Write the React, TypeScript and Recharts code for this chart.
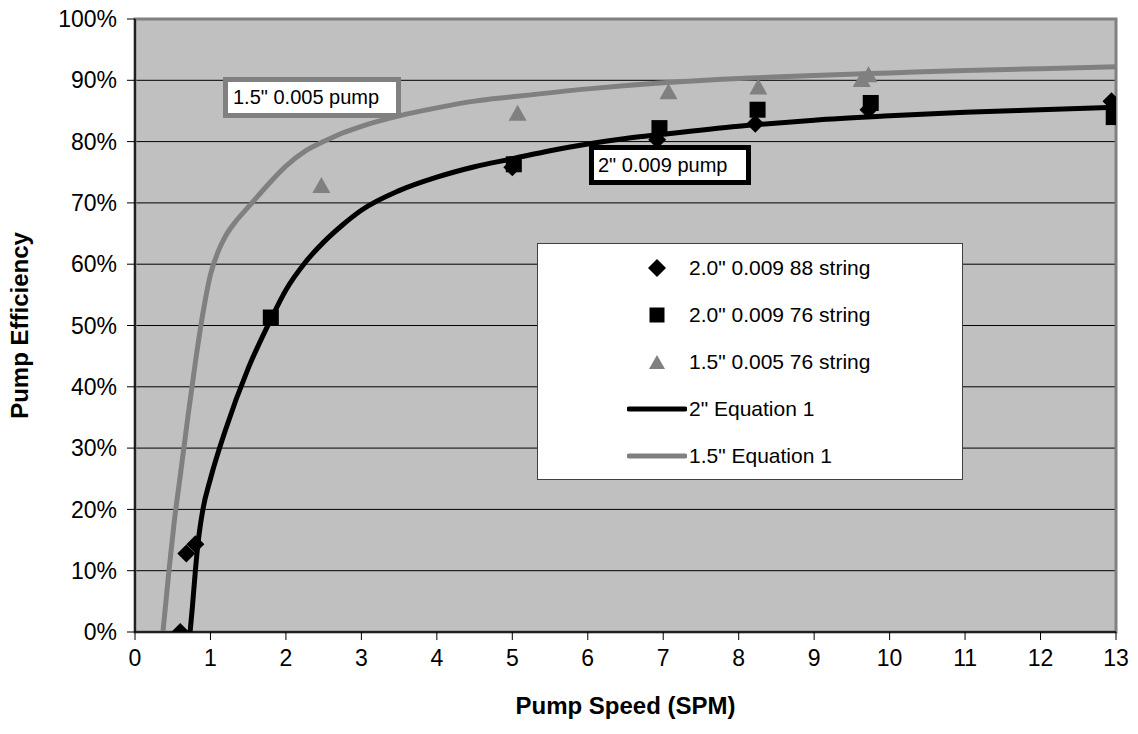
import React from 'react';
import { ComposedChart, Line, Scatter, XAxis, YAxis, CartesianGrid, ReferenceArea } from 'recharts';

// measured points, speed in SPM, efficiency in %
const string88_2in = [
  { x: 0.6, y: 0 },
  { x: 0.68, y: 12.8 },
  { x: 0.8, y: 14.3 },
  { x: 5.0, y: 75.8 },
  { x: 6.92, y: 80.3 },
  { x: 8.22, y: 82.9 },
  { x: 9.72, y: 85.2 },
  { x: 12.94, y: 86.6 },
];

const string76_2in = [
  { x: 1.8, y: 51.3 },
  { x: 5.02, y: 76.3 },
  { x: 6.95, y: 82.2 },
  { x: 8.25, y: 85.2 },
  { x: 9.75, y: 86.3 },
  { x: 12.97, y: 84.0 },
];

const string76_15in = [
  { x: 2.47, y: 72.9 },
  { x: 5.07, y: 84.7 },
  { x: 7.07, y: 88.2 },
  { x: 8.26, y: 89.0 },
  { x: 9.63, y: 90.2 },
  { x: 9.72, y: 91.0 },
];

// Equation 1 curves
const eq1_2in = [
  { x: 0.73, y: 0 },
  { x: 0.76, y: 4 },
  { x: 0.8, y: 10 },
  { x: 0.84, y: 15 },
  { x: 0.9, y: 20 },
  { x: 1.0, y: 25 },
  { x: 1.2, y: 33 },
  { x: 1.5, y: 43 },
  { x: 1.8, y: 51 },
  { x: 2.0, y: 55.8 },
  { x: 2.25, y: 60.2 },
  { x: 2.5, y: 63.6 },
  { x: 2.75, y: 66.4 },
  { x: 3.0, y: 68.8 },
  { x: 3.5, y: 72 },
  { x: 4.0, y: 74.2 },
  { x: 4.5, y: 75.9 },
  { x: 5.0, y: 77.2 },
  { x: 5.5, y: 78.5 },
  { x: 6.0, y: 79.6 },
  { x: 6.5, y: 80.5 },
  { x: 7.0, y: 81.2 },
  { x: 8.0, y: 82.5 },
  { x: 9.0, y: 83.5 },
  { x: 10.0, y: 84.2 },
  { x: 11.0, y: 84.8 },
  { x: 12.0, y: 85.2 },
  { x: 13.0, y: 85.6 },
];

const eq1_15in = [
  { x: 0.37, y: 0 },
  { x: 0.45, y: 10 },
  { x: 0.52, y: 18 },
  { x: 0.6, y: 25.5 },
  { x: 0.7, y: 35 },
  { x: 0.8, y: 44 },
  { x: 0.9, y: 52 },
  { x: 1.0, y: 58.3 },
  { x: 1.1, y: 62 },
  { x: 1.2, y: 64.6 },
  { x: 1.35, y: 67.2 },
  { x: 1.5, y: 69.3 },
  { x: 1.75, y: 72.8 },
  { x: 2.0, y: 76.0 },
  { x: 2.25, y: 78.4 },
  { x: 2.5, y: 80.0 },
  { x: 2.75, y: 81.4 },
  { x: 3.0, y: 82.5 },
  { x: 3.5, y: 84.2 },
  { x: 4.0, y: 85.5 },
  { x: 4.5, y: 86.6 },
  { x: 5.0, y: 87.3 },
  { x: 6.0, y: 88.6 },
  { x: 7.0, y: 89.6 },
  { x: 8.0, y: 90.3 },
  { x: 9.0, y: 90.8 },
  { x: 10.0, y: 91.2 },
  { x: 11.0, y: 91.6 },
  { x: 12.0, y: 91.9 },
  { x: 13.0, y: 92.2 },
];

const xTicks = [0, 1, 2, 3, 4, 5, 6, 7, 8, 9, 10, 11, 12, 13];
const yTicks = [0, 10, 20, 30, 40, 50, 60, 70, 80, 90, 100];

const legendItems = [
  { name: '2.0" 0.009 88 string', kind: 'diamond', color: '#000000' },
  { name: '2.0" 0.009 76 string', kind: 'square', color: '#000000' },
  { name: '1.5" 0.005 76 string', kind: 'triangle', color: '#808080' },
  { name: '2" Equation 1', kind: 'line', color: '#000000' },
  { name: '1.5" Equation 1', kind: 'line', color: '#808080' },
];

const FONT = 'Arial, "Liberation Sans", sans-serif';

const Diamond = (props: any) => {
  const { cx, cy } = props;
  const r = 9;
  return <path d={`M${cx},${cy - r}L${cx + r},${cy}L${cx},${cy + r}L${cx - r},${cy}Z`} fill="#000" />;
};

const Square = (props: any) => {
  const { cx, cy } = props;
  const s = 16;
  return <rect x={cx - s / 2} y={cy - s / 2} width={s} height={s} fill="#000" />;
};

const Triangle = (props: any) => {
  const { cx, cy } = props;
  const w = 18;
  const h = 16;
  return <path d={`M${cx},${cy - h / 2}L${cx + w / 2},${cy + h / 2}L${cx - w / 2},${cy + h / 2}Z`} fill="#808080" />;
};

function LegendIcon({ kind, color }: { kind: string; color: string }) {
  if (kind === 'line') {
    return (
      <svg width={60} height={20}>
        <line x1={2} y1={10} x2={58} y2={10} stroke={color} strokeWidth={5} strokeLinecap="round" />
      </svg>
    );
  }
  return (
    <svg width={60} height={20}>
      {kind === 'diamond' && <Diamond cx={30} cy={10} />}
      {kind === 'square' && <rect x={22.5} y={2.5} width={15} height={15} fill={color} />}
      {kind === 'triangle' && <path d="M30,3L38,17L22,17Z" fill={color} />}
    </svg>
  );
}

function App() {
  return (
    <div style={{ position: 'relative', width: 1138, height: 734, margin: -8, background: '#fff', fontFamily: FONT }}>
      <ComposedChart width={1138} height={734} margin={{ top: 19, right: 22, bottom: 0, left: 0 }}>
        <CartesianGrid vertical={false} fill="#c0c0c0" stroke="#000" strokeOpacity={1} />
        <ReferenceArea x1={0} x2={13} y1={0} y2={100} fill="none" stroke="#808080" strokeWidth={3} ifOverflow="visible" />
        <XAxis
          type="number"
          dataKey="x"
          domain={[0, 13]}
          ticks={xTicks}
          interval={0}
          allowDataOverflow
          height={102}
          tickSize={8}
          tickMargin={10}
          axisLine={{ stroke: '#000', strokeWidth: 1.5 }}
          tickLine={{ stroke: '#000' }}
          tick={{ fill: '#000', fontSize: 23, fontFamily: FONT }}
          label={{ value: 'Pump Speed (SPM)', position: 'insideBottom', offset: 20, fill: '#000', fontSize: 24, fontWeight: 'bold', fontFamily: FONT }}
        />
        <YAxis
          type="number"
          dataKey="y"
          domain={[0, 100]}
          ticks={yTicks}
          interval={0}
          allowDataOverflow
          width={135}
          tickSize={8}
          tickMargin={10}
          tickFormatter={(v: number) => `${v}%`}
          axisLine={{ stroke: '#000', strokeWidth: 1.5 }}
          tickLine={{ stroke: '#000' }}
          tick={{ fill: '#000', fontSize: 23, fontFamily: FONT }}
          label={(p: any) => {
            const vb = p.viewBox || {};
            const cy = (vb.y ?? 19) + (vb.height ?? 613) / 2;
            return (
              <text x={19} y={cy} transform={`rotate(-90, 19, ${cy})`} textAnchor="middle" dominantBaseline="central" fontSize={24} fontWeight="bold" fontFamily={FONT} fill="#000">
                Pump Efficiency
              </text>
            );
          }}
        />
        <Line data={eq1_15in} dataKey="y" type="monotone" stroke="#808080" strokeWidth={5} dot={false} activeDot={false} isAnimationActive={false} />
        <Line data={eq1_2in} dataKey="y" type="monotone" stroke="#000" strokeWidth={5} dot={false} activeDot={false} isAnimationActive={false} />
        <Scatter data={string76_15in} dataKey="y" shape={Triangle} isAnimationActive={false} />
        <Scatter data={string76_2in} dataKey="y" shape={Square} isAnimationActive={false} />
        <Scatter data={string88_2in} dataKey="y" shape={Diamond} isAnimationActive={false} />
      </ComposedChart>

      <div
        style={{
          position: 'absolute', left: 223, top: 77, width: 178, height: 41, boxSizing: 'border-box',
          border: '5px solid #808080', background: '#fff', fontSize: 20, lineHeight: '31px', paddingLeft: 5, whiteSpace: 'nowrap',
        }}
      >
        1.5" 0.005 pump
      </div>
      <div
        style={{
          position: 'absolute', left: 589, top: 145, width: 162, height: 40, boxSizing: 'border-box',
          border: '5px solid #000', background: '#fff', fontSize: 20, lineHeight: '30px', paddingLeft: 4, whiteSpace: 'nowrap',
        }}
      >
        2" 0.009 pump
      </div>

      <div
        style={{
          position: 'absolute', left: 537, top: 243, width: 426, height: 237, boxSizing: 'border-box',
          border: '1px solid #404040', background: '#fff',
        }}
      >
        {legendItems.map((it) => (
          <div key={it.name} style={{ height: 47, display: 'flex', alignItems: 'center' }}>
            <div style={{ width: 60, marginLeft: 89, display: 'flex' }}>
              <LegendIcon kind={it.kind} color={it.color} />
            </div>
            <span style={{ fontSize: 21, marginLeft: 2, whiteSpace: 'nowrap' }}>{it.name}</span>
          </div>
        ))}
      </div>
    </div>
  );
}

export default App;
